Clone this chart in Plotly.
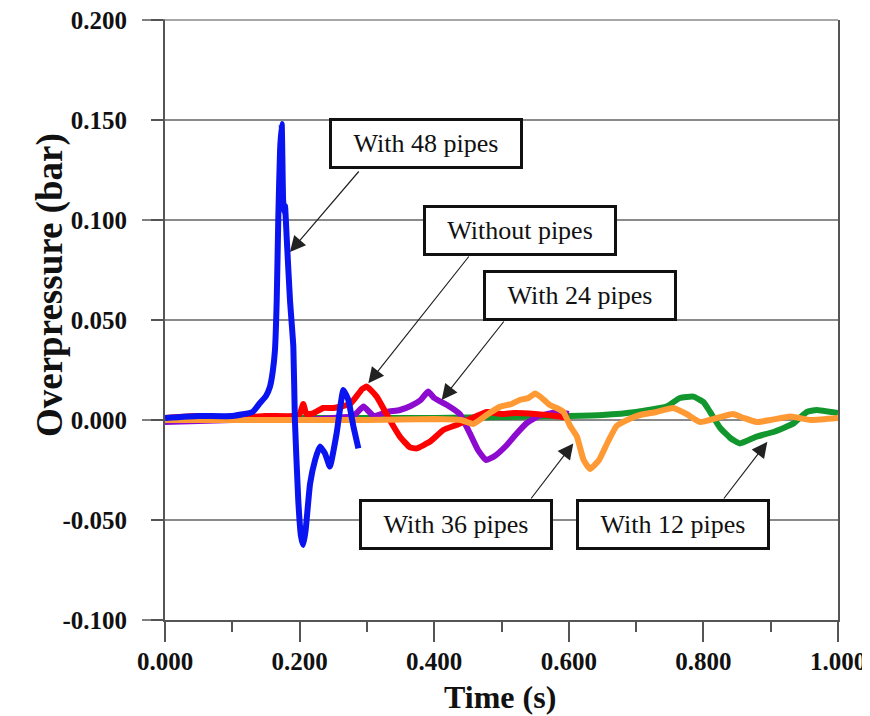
import plotly.graph_objects as go

# ---------------- data ----------------
t_48 = [0.0, 0.05, 0.10, 0.13, 0.141, 0.150, 0.156, 0.160, 0.1634, 0.166, 0.1684, 0.171, 0.1734,
        0.1755, 0.1770, 0.1783, 0.181, 0.1857, 0.1907, 0.193, 0.198, 0.202, 0.2055, 0.209, 0.2155,
        0.223, 0.230, 0.2377, 0.245, 0.255, 0.265, 0.2724, 0.280, 0.2873]
p_48 = [0.001, 0.002, 0.002, 0.004, 0.0085, 0.012, 0.0167, 0.024, 0.035, 0.060, 0.1017, 0.135, 0.148,
        0.110, 0.104, 0.107, 0.090, 0.060, 0.0367, 0.0, -0.040, -0.058, -0.0625, -0.055, -0.032,
        -0.020, -0.0133, -0.0167, -0.0233, -0.0067, 0.015, 0.010, -0.0033, -0.0142]

t_0 = [0.0, 0.05, 0.10, 0.15, 0.19, 0.200, 0.2055, 0.210, 0.220, 0.235, 0.250, 0.265, 0.275, 0.285,
       0.293, 0.300, 0.3145, 0.334, 0.349, 0.364, 0.374, 0.394, 0.4135, 0.433, 0.450, 0.478, 0.500,
       0.520, 0.550, 0.580, 0.600]
p_0 = [0.001, 0.002, 0.001, 0.002, 0.002, 0.003, 0.008, 0.003, 0.0033, 0.006, 0.006, 0.007, 0.008, 0.012,
       0.0155, 0.0167, 0.0117, 0.0, -0.0083, -0.0137, -0.0142, -0.0108, -0.005, -0.0025, 0.0, 0.004, 0.003,
       0.0035, 0.003, 0.002, 0.001]

t_24 = [0.0, 0.10, 0.20, 0.25, 0.28, 0.295, 0.31, 0.33, 0.349, 0.365, 0.38, 0.391, 0.40, 0.419, 0.438,
        0.453, 0.465, 0.477, 0.490, 0.508, 0.522, 0.537, 0.555, 0.572, 0.585, 0.600]
p_24 = [-0.001, 0.0, 0.0, 0.001, 0.002, 0.0067, 0.002, 0.004, 0.005, 0.007, 0.010, 0.0142, 0.011, 0.0075, 0.003,
        -0.0067, -0.015, -0.020, -0.018, -0.0125, -0.007, -0.0017, 0.002, 0.0033, 0.004, 0.003]

t_12 = [0.0, 0.2, 0.4, 0.5, 0.6, 0.65, 0.70, 0.745, 0.765, 0.785, 0.800, 0.810, 0.825, 0.840, 0.854,
        0.879, 0.904, 0.934, 0.9535, 0.968, 1.0]
p_12 = [0.001, 0.001, 0.001, 0.0015, 0.002, 0.0025, 0.004, 0.0067, 0.011, 0.0117, 0.009, 0.004, -0.004,
        -0.009, -0.0117, -0.0083, -0.006, -0.0017, 0.004, 0.005, 0.0035]

t_36 = [0.0, 0.1, 0.2, 0.3, 0.4, 0.44, 0.458, 0.48, 0.498, 0.515, 0.527, 0.54, 0.55, 0.56, 0.572, 0.582,
        0.592, 0.602, 0.612, 0.622, 0.6315, 0.645, 0.658, 0.671, 0.69, 0.706, 0.73, 0.755, 0.775, 0.795,
        0.82, 0.844, 0.86, 0.879, 0.90, 0.929, 0.96, 1.0]
p_36 = [0.0, 0.0, 0.0, 0.0, 0.0005, 0.0, -0.002, 0.003, 0.0067, 0.008, 0.010, 0.011, 0.0133, 0.011, 0.0075,
        0.006, 0.004, -0.003, -0.0083, -0.020, -0.0245, -0.020, -0.011, -0.003, 0.0005, 0.0025, 0.004, 0.006,
        0.003, -0.001, 0.001, 0.003, 0.001, -0.001, 0.0, 0.0017, 0.0, 0.001]

series_names = ["With 12 pipes", "With 24 pipes", "Without pipes", "With 36 pipes", "With 48 pipes"]
series_t = [t_12, t_24, t_0, t_36, t_48]
series_p = [p_12, p_24, p_0, p_36, p_48]
series_colors = ["#12962E", "#8C0BCF", "#FF0000", "#FF9933", "#0A14F0"]

x_tick_vals = [0.0, 0.2, 0.4, 0.6, 0.8, 1.0]
x_tick_text = ["0.000", "0.200", "0.400", "0.600", "0.800", "1.000"]
y_tick_vals = [-0.10, -0.05, 0.0, 0.05, 0.10, 0.15, 0.20]
y_tick_text = ["-0.100", "-0.050", "0.000", "0.050", "0.100", "0.150", "0.200"]

# label boxes: (text, box centre x, box centre y, arrow tail x, tail y, tip x, tip y)
labels = [
    ("With 48 pipes", 0.3871, 0.1385, 0.2898, 0.125, 0.1857, 0.084),
    ("Without pipes", 0.5278, 0.095, 0.4532, 0.0825, 0.3021, 0.0184),
    ("With 24 pipes", 0.6169, 0.0625, 0.5052, 0.050, 0.4111, 0.010),
    ("With 36 pipes", 0.4329, -0.052, 0.5423, -0.040, 0.6067, -0.0117),
    ("With 12 pipes", 0.7541, -0.052, 0.8287, -0.040, 0.8950, -0.0109),
]

# ---------------- figure ----------------
fig = go.Figure()
for name, tt, pp, col in zip(series_names, series_t, series_p, series_colors):
    fig.add_trace(go.Scatter(x=tt, y=pp, mode="lines", name=name,
                             line=dict(color=col, width=6, shape="spline", smoothing=0.4)))

SERIF = "Liberation Serif, Times New Roman, serif"
AX_COL = "#555555"
GRID_COL = "#8A8A8A"
Y0, Y1 = -0.1, 0.2

annotations = []
for text, bx, by, ax, ay, tx, ty in labels:
    annotations.append(dict(x=tx, y=ty, ax=ax, ay=ay, xref="x", yref="y", axref="x", ayref="y",
                            text="", showarrow=True, arrowhead=2, arrowsize=2.6, arrowwidth=1.2,
                            arrowcolor="#222222", standoff=0, startstandoff=0))
    annotations.append(dict(x=bx, y=by, xref="x", yref="y", text=text, showarrow=False,
                            font=dict(family=SERIF, size=26, color="#111111"),
                            bgcolor="white", bordercolor="#111111", borderwidth=3,
                            width=188, height=45, borderpad=0, align="center", valign="middle"))

annotations.append(dict(x=-0.1709, y=0.5583, xref="paper", yref="paper", xanchor="center", yanchor="middle",
                        text="<b>Overpressure (bar)</b>", textangle=-90, showarrow=False,
                        font=dict(family=SERIF, size=37, color="#111111")))
annotations.append(dict(x=0.4978, y=-0.128, xref="paper", yref="paper", xanchor="center", yanchor="middle",
                        text="<b>Time (s)</b>", showarrow=False,
                        font=dict(family=SERIF, size=32, color="#111111")))

# long ticks at the 0.1 positions of the value axis, and the top grid line
shapes = []
for v in [-0.1, 0.0, 0.1, 0.2]:
    yp = (v - Y0) / (Y1 - Y0)
    shapes.append(dict(type="line", xref="paper", yref="paper", x0=-23 / 673, x1=0, y0=yp, y1=yp,
                       line=dict(color=AX_COL, width=1.5), layer="above"))
shapes.append(dict(type="line", xref="paper", yref="paper", x0=0, x1=1, y0=1, y1=1,
                   line=dict(color=GRID_COL, width=1.5), layer="below"))

tickfont = dict(family=SERIF, size=25, color="#111111", weight="bold")

# the page body has an 8px margin, so the figure is drawn 8px right and down
fig.update_layout(
    template="none",
    width=862, height=708,
    margin=dict(l=157, r=32, t=12, b=96, autoexpand=False),
    paper_bgcolor="white", plot_bgcolor="white",
    showlegend=False,
    annotations=annotations,
    shapes=shapes,
    xaxis=dict(range=[0, 1], tickvals=x_tick_vals, ticktext=x_tick_text, automargin=False,
               ticks="outside", ticklen=20, tickwidth=1.5, tickcolor=AX_COL,
               minor=dict(tickvals=[0.1, 0.3, 0.5, 0.7, 0.9], ticks="outside", ticklen=10,
                          tickwidth=1.5, tickcolor=AX_COL, showgrid=False),
               showgrid=False, zeroline=False, showline=True, linecolor=AX_COL, linewidth=2, mirror=False,
               tickfont=tickfont, ticklabelstandoff=-2, ticklabeloverflow="allow"),
    yaxis=dict(range=[Y0, Y1], tickvals=y_tick_vals, ticktext=y_tick_text, automargin=False,
               ticks="outside", ticklen=12, tickwidth=1.5, tickcolor=AX_COL,
               showgrid=True, gridcolor=GRID_COL, gridwidth=1.5, zeroline=False,
               showline=True, linecolor=AX_COL, linewidth=2, mirror=True,
               tickfont=tickfont, ticklabelstandoff=19, ticklabeloverflow="allow"),
)

fig.write_html("out.html")
